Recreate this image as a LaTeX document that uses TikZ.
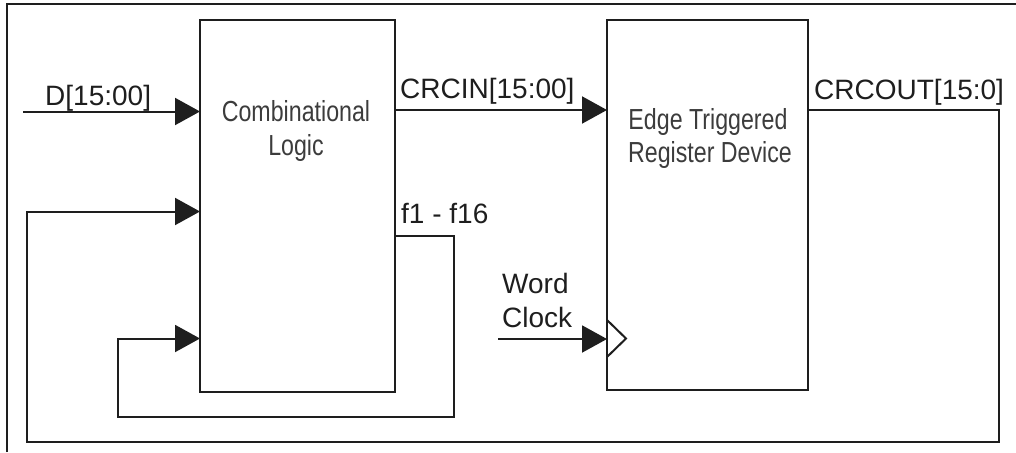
\documentclass[tikz,border=0pt]{standalone}
\usepackage{fontspec}
\setmainfont{Liberation Sans}
\newfontfamily\narrowfont[FakeStretch=0.8]{Liberation Sans}
\usetikzlibrary{arrows.meta}
\definecolor{ink}{HTML}{1E1E1E}
\definecolor{boxink}{HTML}{3C3C3C}
\tikzset{
  wire/.style={draw=ink, line width=2pt, line join=miter},
  sig/.style={wire, -{Triangle[length=25pt,width=27pt]}},
  blk/.style={draw=ink, line width=2pt, inner sep=0pt, outer sep=0pt, anchor=north west},
  lbl/.style={inner sep=0pt, anchor=base west, text=ink, font=\fontsize{28}{33}\selectfont},
  btxt/.style={inner sep=0pt, anchor=base, text=boxink, font=\narrowfont\fontsize{29}{34}\selectfont}
}
\begin{document}
\begin{tikzpicture}[x=1pt,y=-1pt]
\useasboundingbox (0,0) rectangle (1016,452);
% outer frame
\draw[wire] (7,452) -- (7,4) -- (1016,4);
% blocks
\node[blk, minimum width=195pt, minimum height=372pt] (cl) at (200,20) {};
\node[blk, minimum width=201pt, minimum height=370pt] (reg) at (607,20) {};
\node[btxt] (cl1) at (296,121) {Combinational};
\node[btxt] (cl2) at (296,155) {Logic};
\node[btxt] (rg1) at (708,129) {Edge Triggered};
\node[btxt] (rg2) at (710,162) {Register Device};
% coordinates
\coordinate (din) at (23,111.5);
\coordinate (crcy) at (0,110);
\coordinate (f1y) at (0,235.5);
\coordinate (f1r) at (454,235.5);
\coordinate (f1b) at (454,416.5);
\coordinate (f1l) at (118,416.5);
\coordinate (f1t) at (118,338.5);
\coordinate (cor) at (999,110);
\coordinate (cob) at (999,441.5);
\coordinate (col) at (27,441.5);
\coordinate (cot) at (27,211.5);
\coordinate (clk) at (498,339);
% connectors
\draw[sig] (din) -- (din -| cl.west);
\draw[sig] (crcy -| cl.east) -- (crcy -| reg.west);
\draw[sig] (crcy -| reg.east) -- (cor) -- (cob) -- (col) -- (cot) -- (cot -| cl.west);
\draw[sig] (f1y -| cl.east) -- (f1r) -- (f1b) -- (f1l) -- (f1t) -- (f1t -| cl.west);
\draw[sig] (clk) -- (clk -| reg.west);
% clock symbol
\draw[wire] (607,320) -- (626,338.5) -- (607,357);
% labels
\node[lbl] (ld) at (45,105.5) {D[15:00]};
\node[lbl] (lci) at (400,98.5) {CRCIN[15:00]};
\node[lbl] (lco) at (814,99.5) {CRCOUT[15:0]};
\node[lbl] (lf) at (401,223.5) {f1 - f16};
\node[lbl] (lw) at (502,293.5) {Word};
\node[lbl] (lc) at (502,327) {Clock};
\end{tikzpicture}
\end{document}
